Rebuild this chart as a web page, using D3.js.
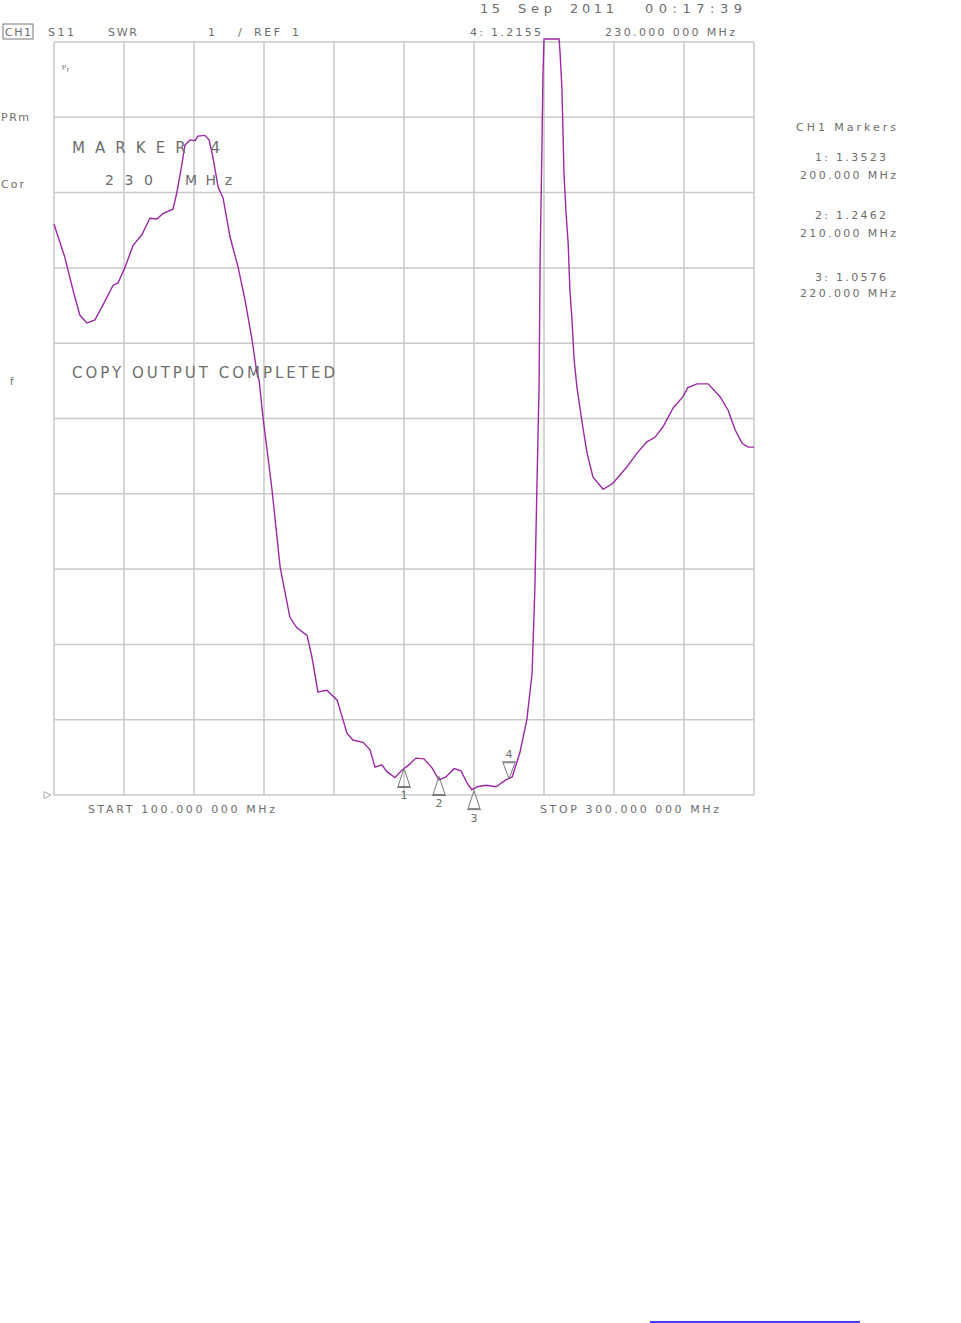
<!DOCTYPE html>
<html><head><meta charset="utf-8">
<script src="https://cdn.jsdelivr.net/npm/d3@7"></script>
<style>
html,body{margin:0;padding:0;background:#fff;}
svg text{font-family:"DejaVu Sans",sans-serif;fill:#6e6e6e;}
</style></head>
<body>
<svg id="c" width="961" height="1323"></svg>
<script>
// Frequencies (MHz) and SWR readings of the trace
const freqMHz = [100,103.1,105.4,107.4,109.4,111.7,114.0,116.9,118.3,120.3,122.6,125.1,127.4,129.4,131.1,134.0,135.1,136.6,137.4,138.9,140.3,141.1,143.1,144.3,145.4,146.9,148.3,150.3,152.6,154.6,156.6,158.0,158.6,159.7,162.3,164.6,167.4,169.4,172.3,173.7,175.4,178.0,180.9,183.7,185.4,188.3,190.3,191.7,193.7,195.1,197.4,199.4,201.4,203.4,205.7,208.0,210.0,212.0,214.3,216.3,218.0,219.4,220.9,223.4,226.3,229.1,230.9,233.1,235.1,236.6,237.4,238.0,238.6,238.9,239.4,239.7,240.0,244.3,244.6,245.1,245.4,245.7,246.3,246.9,247.4,248.0,248.6,249.4,250.9,252.3,254.0,256.9,259.7,263.7,266.6,269.4,271.7,274.0,276.9,279.7,281.1,283.7,286.9,290.3,292.6,294.6,296.6,298.3,300];
const swr = [8.58,8.14,7.71,7.37,7.27,7.31,7.51,7.77,7.80,8.01,8.30,8.44,8.66,8.65,8.72,8.78,9.00,9.39,9.63,9.70,9.69,9.75,9.76,9.70,9.47,9.07,8.93,8.41,8.01,7.57,7.04,6.60,6.51,6.02,5.05,4.03,3.36,3.22,3.12,2.83,2.37,2.39,2.26,1.82,1.73,1.70,1.60,1.37,1.40,1.31,1.23,1.33,1.40,1.49,1.48,1.36,1.20,1.24,1.35,1.32,1.16,1.07,1.11,1.13,1.11,1.20,1.24,1.56,2.00,2.62,3.76,5.14,6.45,8.14,9.57,10.54,11.04,11.04,10.85,10.40,9.87,9.26,8.73,8.33,7.71,7.31,6.78,6.42,5.94,5.54,5.22,5.06,5.14,5.36,5.54,5.69,5.75,5.89,6.14,6.29,6.41,6.46,6.46,6.29,6.11,5.85,5.67,5.62,5.62];

// Markers
const markerIds = [1,2,3,4];
const markerFreq = [200,210,220,230];
const markerSwr = [1.3523,1.2462,1.0576,1.2155];

// Axis settings (tick positions)
const xTicks = d3.range(100,301,20);
const yTicks = d3.range(1,12,1);

const svg = d3.select("#c");
const x = d3.scaleLinear().domain([100,300]).range([54,754]);
const y = d3.scaleLinear().domain([1,11]).range([795,42]);

const gridColor = "#c9c9c9";
svg.append("g").selectAll("line").data(xTicks).join("line")
  .attr("x1",d=>x(d)).attr("x2",d=>x(d)).attr("y1",y(11)).attr("y2",y(1))
  .attr("stroke",gridColor).attr("stroke-width",1.5);
svg.append("g").selectAll("line").data(yTicks).join("line")
  .attr("x1",x(100)).attr("x2",x(300)).attr("y1",d=>y(d)).attr("y2",d=>y(d))
  .attr("stroke",gridColor).attr("stroke-width",1.5);

// trace
const pts = freqMHz.map((f,i)=>[f,swr[i]]);
svg.append("path").datum(pts)
  .attr("d",d3.line().x(d=>x(d[0])).y(d=>y(d[1])))
  .attr("fill","none").attr("stroke","#9c28a6").attr("stroke-width",1.4);

// reference marker at left
svg.append("path").attr("d",`M44,${y(1)-3.5} L44,${y(1)+3.5} L51,${y(1)} Z`)
  .attr("fill","none").attr("stroke","#aaa").attr("stroke-width",1);

// markers
markerIds.forEach((id,i)=>{
  const mx = x(markerFreq[i]), my = y(markerSwr[i]);
  const g = svg.append("g").attr("stroke","#777").attr("fill","none").attr("stroke-width",1);
  if(id<4){
    g.append("path").attr("d",`M${mx},${my} L${mx-6},${my+18} L${mx+6},${my+18} Z`);
    g.append("line").attr("x1",mx-7).attr("x2",mx+7).attr("y1",my+19).attr("y2",my+19);
    svg.append("text").attr("x",mx).attr("y",my+31).attr("text-anchor","middle")
      .attr("font-size",11).text(id);
  } else {
    g.append("line").attr("x1",mx-7).attr("x2",mx+7).attr("y1",my-17).attr("y2",my-17);
    g.append("path").attr("d",`M${mx},${my} L${mx-6},${my-16} L${mx+6},${my-16} Z`);
    svg.append("text").attr("x",mx).attr("y",my-21).attr("text-anchor","middle")
      .attr("font-size",11).text(id);
  }
});

// text helper: x, baseline y, string, font size, target width
function t(xp,yp,s,size,w){
  const el = svg.append("text").attr("x",xp).attr("y",yp).attr("font-size",size||11).text(s);
  if(w){ el.attr("textLength",w).attr("lengthAdjust","spacing"); }
}
// header
svg.append("rect").attr("x",3).attr("y",24).attr("width",30).attr("height",15)
  .attr("fill","none").attr("stroke","#777").attr("stroke-width",1);
t(5,36,"CH1",11,26);
t(48,36,"S11",11,26);
t(108,36,"SWR",11,29);
t(208,36,"1",11);
t(238,36,"/",11);
t(254,36,"REF",11,26);
t(292,36,"1",11);
t(470,36,"4: 1.2155",11,71);
t(605,36,"230.000 000 MHz",11,130);
t(480,13,"15",13,20);
t(518,13,"Sep",13,34);
t(570,13,"2011",13,44);
t(645,13,"00:17:39",13,97);
// left labels
t(1,121,"PRm",11,28);
t(1,188,"Cor",11,23);
t(10,385,"f",10);
t(62,72,"ᵖᵣ",11);
// in-plot texts
t(72,153,"MARKER 4",15,148);
t(105,185,"2 3 0",14,48);
t(185,185,"MHz",14,47);
t(72,378,"COPY OUTPUT COMPLETED",15,263);
// right marker panel
t(796,131,"CH1 Markers",11,100);
t(815,161,"1: 1.3523",11,71);
t(800,179,"200.000 MHz",11,96);
t(815,219,"2: 1.2462",11,71);
t(800,237,"210.000 MHz",11,96);
t(815,281,"3: 1.0576",11,71);
t(800,297,"220.000 MHz",11,96);
// bottom
t(88,813,"START 100.000 000 MHz",11,187);
t(540,813,"STOP 300.000 000 MHz",11,179);
// link underline
svg.append("line").attr("x1",650).attr("x2",860).attr("y1",1322).attr("y2",1322)
  .attr("stroke","#0000ff").attr("stroke-width",1.5);
</script>
</body></html>
